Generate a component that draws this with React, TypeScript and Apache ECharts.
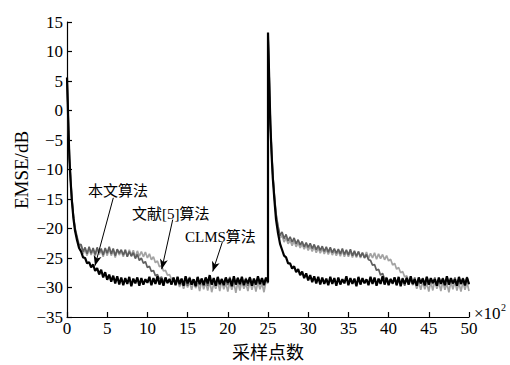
import React, { useEffect, useRef } from "react";
import * as echarts from "echarts";

// sample positions (unit: 10^2 samples)
const HEAD_A = [0, 0.1, 0.2, 0.3, 0.45, 0.6, 0.8, 1.0];
const HEAD_B = [25, 25.1, 25.2, 25.3, 25.45, 25.6, 25.8, 26.0];

// 本文算法 (black)
const OURS_A = [
  5.6, 1.0, -4.0, -8.2, -12.0, -15.2, -18.3, -20.4,
  -22.0, -23.3, -23.9, -24.9, -25.0, -25.9, -25.7, -26.6,
  -26.1, -27.2, -26.7, -27.8, -27.0, -28.3, -27.4, -28.7,
  -27.8, -29.0, -28.0, -29.3, -28.1, -29.5, -28.3, -29.6,
  -28.4, -29.4, -28.2, -29.8, -28.5, -29.3, -28.3, -29.7,
  -28.4, -29.5, -28.6, -29.2, -28.2, -29.6, -28.4, -29.4,
  -28.1, -29.5, -28.5, -29.7, -28.3, -29.2, -28.6, -29.5,
  -28.3, -29.6, -28.2, -29.4, -28.5, -29.7, -28.1, -29.3,
  -28.4, -29.5, -28.6, -29.8, -28.2, -29.4, -28.5, -29.6,
  -28.3, -29.3, -27.9, -29.5, -28.4, -29.7, -28.2, -29.4,
  -28.6, -29.6, -28.3, -29.2, -28.5, -29.8, -28.1, -29.5,
  -28.4, -29.4, -28.2, -29.6, -28.6, -29.3, -28.3, -29.7,
  -28.5, -29.5, -28.1, -29.4, -28.4, -29.6, -28.3, -29.1,
];
const OURS_B = [
  13.2, 8.0, 2.5, -2.5, -7.5, -11.5, -15.2, -18.5,
  -20.8, -22.6, -23.6, -24.6, -24.9, -25.9, -25.9, -26.8,
  -26.4, -27.4, -26.9, -27.9, -27.3, -28.4, -27.6, -28.8,
  -27.9, -29.1, -28.1, -29.3, -28.2, -29.5, -28.3, -29.4,
  -28.5, -29.6, -28.2, -29.4, -28.4, -29.7, -28.3, -29.5,
  -28.6, -29.3, -28.1, -29.6, -28.4, -29.4, -28.5, -29.8,
  -28.2, -29.5, -28.4, -29.3, -28.6, -29.6, -28.2, -29.4,
  -28.3, -29.7, -28.5, -29.4, -28.1, -29.5, -28.4, -29.6,
  -28.6, -29.3, -28.3, -29.6, -28.2, -29.8, -28.5, -29.4,
  -28.4, -29.5, -28.1, -29.4, -28.6, -29.7, -28.3, -29.3,
  -28.5, -29.6, -28.2, -29.5, -28.4, -29.2, -28.6, -29.7,
  -28.3, -29.4, -28.5, -29.6, -28.1, -29.5, -28.4, -29.3,
  -28.6, -29.7, -28.2, -29.4, -28.5, -29.6, -28.3, -29.4,
];

// 文献[5]算法 (dark grey)
const REF_A = [
  5.4, 1.5, -3.5, -7.6, -11.5, -14.8, -17.8, -19.9,
  -21.4, -22.8, -22.7, -23.9, -23.2, -24.3, -23.1, -24.2,
  -23.3, -24.4, -23.2, -24.1, -23.4, -24.5, -23.3, -24.2,
  -23.1, -24.3, -23.4, -24.6, -23.5, -24.2, -23.6, -24.5,
  -23.7, -24.8, -23.9, -24.7, -24.1, -25.1, -24.4, -25.4,
  -25.0, -25.9, -25.6, -26.6, -26.4, -27.3, -27.1, -28.0,
  -27.8, -28.6, -28.2, -29.1, -28.4, -29.3, -28.5, -29.5,
  -28.5, -29.4, -28.3, -29.6, -28.6, -29.3, -28.4, -29.7,
  -28.2, -29.5, -28.6, -29.4, -28.3, -29.6, -28.5, -29.3,
  -28.4, -29.7, -28.2, -29.5, -28.6, -29.4, -28.3, -29.6,
  -28.5, -29.3, -28.4, -29.6, -28.2, -29.5, -28.6, -29.4,
  -28.3, -29.6, -28.5, -29.4, -28.4, -29.7, -28.2, -29.5,
  -28.6, -29.4, -28.3, -29.5, -28.5, -29.3, -28.4, -29.2,
];
const REF_B = [
  13.0, 8.2, 2.8, -2.2, -7.0, -11.0, -14.6, -17.6,
  -19.6, -21.2, -20.6, -21.7, -21.0, -22.1, -21.4, -22.3,
  -21.6, -22.6, -21.9, -22.8, -22.2, -23.1, -22.4, -23.2,
  -22.5, -23.4, -22.7, -23.6, -22.9, -23.7, -23.0, -23.9,
  -23.1, -24.0, -23.2, -24.1, -23.4, -24.2, -23.5, -24.3,
  -23.4, -24.4, -23.6, -24.5, -23.5, -24.6, -23.8, -24.7,
  -23.9, -24.8, -24.1, -25.0, -24.4, -25.3, -25.4, -26.2,
  -26.1, -27.1, -26.9, -27.9, -27.6, -28.6, -28.3, -29.2,
  -28.5, -29.4, -28.3, -29.6, -28.6, -29.3, -28.4, -29.7,
  -28.2, -29.5, -28.6, -29.4, -28.3, -29.6, -28.5, -29.3,
  -28.4, -29.7, -28.2, -29.5, -28.6, -29.4, -28.3, -29.6,
  -28.5, -29.3, -28.4, -29.6, -28.2, -29.5, -28.6, -29.4,
  -28.3, -29.6, -28.5, -29.4, -28.4, -29.7, -28.2, -29.5,
];

// CLMS算法 (light grey)
const CLMS_A = [
  5.3, 1.2, -3.8, -7.8, -11.8, -15.0, -18.0, -20.1,
  -21.7, -23.2, -22.9, -24.3, -23.5, -24.6, -23.4, -24.5,
  -23.6, -24.7, -23.5, -24.4, -23.7, -24.8, -23.5, -24.6,
  -23.4, -24.6, -23.7, -24.9, -23.6, -24.5, -23.8, -24.8,
  -23.5, -24.7, -23.6, -24.6, -23.7, -24.9, -23.8, -24.7,
  -23.9, -24.8, -24.0, -25.0, -24.3, -25.3, -24.8, -25.8,
  -25.5, -26.5, -26.3, -27.2, -27.1, -27.9, -27.8, -28.6,
  -28.4, -29.3, -28.9, -29.9, -29.0, -30.2, -29.1, -30.0,
  -29.0, -30.4, -28.9, -30.1, -29.2, -30.6, -28.8, -30.3,
  -29.1, -30.5, -28.9, -30.8, -29.3, -30.2, -29.0, -30.6,
  -28.8, -30.3, -29.2, -30.7, -29.0, -30.4, -29.1, -30.9,
  -29.0, -30.5, -28.9, -30.2, -29.3, -30.6, -28.8, -30.4,
  -29.1, -30.7, -29.0, -30.3, -29.2, -30.8, -28.9, -29.3,
];
const CLMS_B = [
  13.0, 8.3, 3.0, -2.0, -6.8, -10.8, -14.4, -17.4,
  -19.8, -21.6, -21.2, -22.3, -21.6, -22.6, -22.0, -22.9,
  -22.1, -23.1, -22.4, -23.3, -22.6, -23.5, -22.8, -23.7,
  -23.0, -23.9, -23.1, -24.1, -23.3, -24.2, -23.4, -24.3,
  -23.5, -24.4, -23.6, -24.5, -23.7, -24.6, -23.8, -24.7,
  -23.7, -24.8, -23.9, -24.8, -23.8, -24.9, -24.0, -24.9,
  -23.9, -25.0, -24.1, -24.9, -24.0, -25.1, -24.2, -25.0,
  -24.1, -25.2, -24.3, -25.1, -24.4, -25.3, -24.6, -25.5,
  -25.2, -26.2, -25.9, -26.9, -26.6, -27.5, -27.3, -28.2,
  -28.0, -28.9, -28.6, -29.6, -29.0, -30.2, -29.1, -30.4,
  -28.9, -30.3, -29.2, -30.7, -29.0, -30.5, -28.8, -30.2,
  -29.1, -30.6, -28.9, -30.4, -29.3, -30.8, -29.0, -30.3,
  -28.9, -30.5, -29.2, -30.7, -29.0, -30.4, -29.1, -30.6,
];

// annotation arrows: [fromX, fromY, toX, toY] in data units
const ARROWS = [
  [5.76, -14.8, 3.48, -26.3],
  [13.15, -18.5, 11.78, -26.9],
  [19.32, -22.3, 18.12, -27.3],
];
const LABELS = ["本文算法", "文献[5]算法", "CLMS算法"];

function positions(head: number[], start: number, end: number): number[] {
  const out = head.slice();
  for (let i = 0; start + i * 0.25 <= end + 1e-9; i++) out.push(start + i * 0.25);
  return out;
}
const X_A = positions(HEAD_A, 1.25, 25);
const X_B = positions(HEAD_B, 26.25, 50);

function pairs(a: number[], b: number[]): number[][] {
  const out: number[][] = [];
  const na = Math.min(X_A.length, a.length);
  for (let i = 0; i < na; i++) out.push([X_A[i], a[i]]);
  const nb = Math.min(X_B.length, b.length);
  for (let i = 0; i < nb; i++) out.push([X_B[i], b[i]]);
  return out;
}

const SERIF = "Liberation Serif, Noto Sans CJK SC, serif";
const NUM = "Liberation Serif";
const CJK = "Noto Sans CJK SC";

export default function App() {
  const ref = useRef<HTMLDivElement>(null);
  useEffect(() => {
    const chart = echarts.init(ref.current!, null, { renderer: "svg" });
    const minus = (v: number) => `{n|${String(v).replace("-", "\u2212")}}`;
    const rich = { n: { fontFamily: NUM, fontSize: 17, color: "#000" } };
    chart.setOption({
      animation: false,
      backgroundColor: "#fff",
      grid: { left: 67, top: 22, width: 402, height: 300 },
      xAxis: {
        type: "value",
        min: 0,
        max: 50,
        interval: 5,
        axisLine: { show: true, onZero: false, lineStyle: { color: "#000", width: 1.2 } },
        axisTick: { show: true, inside: true, length: 5, lineStyle: { color: "#000", width: 1.2 } },
        axisLabel: { color: "#000", fontFamily: NUM, fontSize: 17, margin: 3, formatter: minus, rich },
        splitLine: { show: false },
        name: "采样点数",
        nameLocation: "middle",
        nameGap: 25,
        nameTextStyle: { color: "#000", fontFamily: CJK, fontSize: 18 },
      },
      yAxis: {
        type: "value",
        min: -35,
        max: 15,
        interval: 5,
        axisLine: { show: true, onZero: false, lineStyle: { color: "#000", width: 1.2 } },
        axisTick: { show: true, inside: true, length: 5, lineStyle: { color: "#000", width: 1.2 } },
        axisLabel: { color: "#000", fontFamily: NUM, fontSize: 17, margin: 4, formatter: minus, rich },
        splitLine: { show: false },
      },
      series: [
        {
          name: "CLMS算法",
          type: "line",
          showSymbol: false,
          symbol: "none",
          data: pairs(CLMS_A, CLMS_B),
          lineStyle: { color: "#a3a3a3", width: 1.7 },
          silent: true,
        },
        {
          name: "文献[5]算法",
          type: "line",
          showSymbol: false,
          symbol: "none",
          data: pairs(REF_A, REF_B),
          lineStyle: { color: "#5e5e5e", width: 1.7 },
          silent: true,
        },
        {
          name: "本文算法",
          type: "line",
          showSymbol: false,
          symbol: "none",
          data: pairs(OURS_A, OURS_B),
          lineStyle: { color: "#000", width: 2.2 },
          silent: true,
          markLine: {
            silent: true,
            animation: false,
            symbol: ["none", "arrow"],
            symbolSize: [6, 10],
            label: { show: false },
            lineStyle: { color: "#000", width: 1, type: "solid" },
            data: ARROWS.map((a) => [{ coord: [a[0], a[1]] }, { coord: [a[2], a[3]] }]),
          },
        },
      ],
      graphic: [
        {
          type: "text",
          x: 21,
          y: 170,
          rotation: Math.PI / 2,
          style: { text: "EMSE/dB", font: `19px ${NUM}`, fill: "#000", align: "center", verticalAlign: "middle" },
        },
        { type: "text", left: 88, top: 183, style: { text: LABELS[0], font: `15px ${SERIF}`, fill: "#000" } },
        { type: "text", left: 132, top: 206, style: { text: LABELS[1], font: `15px ${SERIF}`, fill: "#000" } },
        { type: "text", left: 185, top: 229, style: { text: LABELS[2], font: `15px ${SERIF}`, fill: "#000" } },
        { type: "text", left: 474, top: 305, style: { text: "×10", font: `17px ${NUM}`, fill: "#000" } },
        { type: "text", left: 501, top: 302, style: { text: "2", font: `10px ${NUM}`, fill: "#000" } },
      ],
    });
    return () => chart.dispose();
  }, []);
  return (
    <div
      ref={ref}
      style={{ position: "fixed", left: 0, top: 0, width: 510, height: 365, background: "#fff" }}
    />
  );
}
